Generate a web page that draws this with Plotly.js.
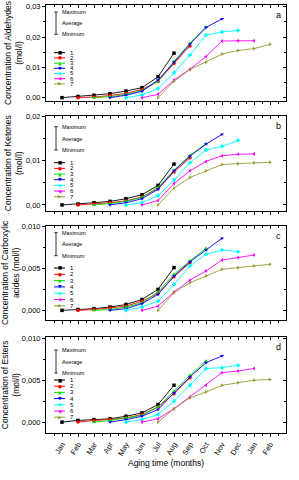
<!DOCTYPE html>
<html><head><meta charset="utf-8">
<script src="https://cdn.plot.ly/plotly-3.0.1.min.js"></script>
<style>html,body{margin:0;padding:0;background:#fff}#chart{width:299px;height:480px}</style>
</head><body><div id="chart"></div>
<script>
const monthLabels = ['Jan','Feb','Mar','Apr','May','Jun','Jul','Aug','Sep','Oct','Nov','Dec','Jan','Feb'];
const seriesNames = ['1','2','3','4','5','6','7'];
const seriesStart = [0,1,2,3,4,5,6];
const seriesColors = ['#000000','#ff0000','#00dd00','#0000ff','#00ffff','#ff00ff','#999933'];
const seriesSymbols = ['square','circle','triangle-up','triangle-down','diamond','triangle-left','triangle-right'];
const seriesGlyphs = ['\u25A0','\u25CF','\u25B2','\u25BC','\u25C6','\u25C0','\u25B6'];

const aldehydes = [
  [0,0.0004,0.0008,0.0013,0.0022,0.0033,0.0069,0.0147],
  [0,0.0002,0.0007,0.0014,0.0027,0.0054,0.0113,0.0171],
  [0,0.0003,0.0011,0.0023,0.0054,0.0120,0.0180,0.0233],
  [0,0.0008,0.0021,0.0058,0.0117,0.0177,0.0232,0.0260],
  [0,0.0009,0.0030,0.0082,0.0141,0.0207,0.0217,0.0222],
  [0,0.0011,0.0058,0.0094,0.0136,0.0187,0.0188,0.0188],
  [0,0.0054,0.0093,0.0118,0.0144,0.0156,0.0162,0.0176]
];
const ketones = [
  [0,0.0002,0.0005,0.0008,0.0014,0.0023,0.0044,0.0092],
  [0,0.0002,0.0005,0.0009,0.0018,0.0037,0.0074,0.0106],
  [0,0.0003,0.0008,0.0017,0.0040,0.0078,0.0112,0.0138],
  [0,0.0005,0.0014,0.0035,0.0077,0.0110,0.0137,0.0159],
  [0,0.0005,0.0021,0.0056,0.0095,0.0124,0.0132,0.0145],
  [0,0.0010,0.0048,0.0077,0.0098,0.0111,0.0114,0.0115],
  [0,0.0038,0.0062,0.0077,0.0091,0.0093,0.0095,0.0096]
];
const carboxylic = [
  [0,0.0001,0.0002,0.0004,0.0007,0.0013,0.0025,0.0051],
  [0,0.0001,0.0003,0.0005,0.0011,0.0020,0.0040,0.0057],
  [0,0.0001,0.0004,0.0009,0.0022,0.0043,0.0059,0.0074],
  [0,0.0002,0.0008,0.0019,0.0041,0.0058,0.0072,0.0086],
  [0,0.0004,0.0011,0.0031,0.0053,0.0067,0.0072,0.0070],
  [0,0.0005,0.0022,0.0036,0.0047,0.0060,0.0063,0.0066],
  [0,0.0021,0.0033,0.0041,0.0049,0.0051,0.0053,0.0055]
];
const esters = [
  [0,0.0002,0.0003,0.0004,0.0007,0.0011,0.0021,0.0044],
  [0,0.0002,0.0003,0.0005,0.0009,0.0018,0.0034,0.0053],
  [0,0.0002,0.0005,0.0008,0.0018,0.0037,0.0056,0.0073],
  [0,0.0003,0.0007,0.0015,0.0035,0.0054,0.0071,0.0079],
  [0,0.0003,0.0009,0.0025,0.0044,0.0064,0.0065,0.0068],
  [0,0.0004,0.0016,0.0030,0.0044,0.0059,0.0061,0.0064],
  [0,0.0016,0.0029,0.0036,0.0044,0.0047,0.0050,0.0051]
];
const yTitles = ['Concentration of Aldehydes<br>(mol/l)','Concentration of Ketones<br>(mol/l)','Concentration of Carboxylic<br>acides (mol/l)','Concentration of Esters<br>(mol/l)'];
const panelLetters = ['a','b','c','d'];
const xTitle = 'Aging time (months)';

const FONT = 'Liberation Sans, Arial, sans-serif';
const L = 46, R = 286, T = 5, B = 433;
const px = v => (v - L) / (R - L);
const py = v => (B - v) / (B - T);

const panels = [
  {data: aldehydes, range: [-0.0011, 0.0306], dtick: 0.01, fmt: '.2f', top: 5, bottom: 101, mm: [7,18.3,29.3], leg: [47.7,5.2]},
  {data: ketones, range: [-0.0013, 0.0201], dtick: 0.01, fmt: '.2f', top: 115.7, bottom: 210.7, mm: [11,23.3,34.3], leg: [47,5.67]},
  {data: carboxylic, range: [-0.00115, 0.0101], dtick: 0.005, fmt: '.3f', top: 225.7, bottom: 320, mm: [7,18.6,30], leg: [42.3,6.3]},
  {data: esters, range: [-0.0013, 0.0102], dtick: 0.005, fmt: '.3f', top: 336.7, bottom: 433, mm: [13.3,25,36.3], leg: [43.3,6.2]}
];

const traces = [];
const layout = {
  width: 299, height: 480,
  margin: {l: L, r: 299 - R, t: T, b: 480 - B},
  paper_bgcolor: '#fff', plot_bgcolor: '#fff',
  font: {family: FONT, color: '#000', size: 7.5},
  separators: ',.',
  showlegend: false,
  annotations: [], shapes: []
};
const xTickVals = monthLabels.map((_, i) => i);

panels.forEach((p, pi) => {
  const n = pi + 1;
  const xa = n === 1 ? 'x' : 'x' + n;
  const ya = n === 1 ? 'y' : 'y' + n;
  p.data.forEach((vals, si) => {
    traces.push({
      type: 'scatter', mode: 'lines+markers',
      x: vals.map((_, k) => seriesStart[si] + k), y: vals,
      xaxis: xa, yaxis: ya, name: seriesNames[si],
      line: {color: seriesColors[si], width: 0.9},
      marker: {color: seriesColors[si], symbol: seriesSymbols[si], size: 3.5},
      cliponaxis: false
    });
  });
  const domain = [py(p.bottom), py(p.top)];
  const isLast = pi === 3;
  layout['xaxis' + (n === 1 ? '' : n)] = {
    domain: [0, 1], anchor: ya, range: [-1, 14],
    tickmode: 'array', tickvals: xTickVals, ticktext: monthLabels,
    showticklabels: isLast, tickangle: -60, tickfont: {size: 7.5},
    ticks: 'outside', ticklen: 3, tickwidth: 1, tickcolor: '#000',
    minor: {tickmode: 'linear', tick0: 0.5, dtick: 1, ticks: 'outside', ticklen: 2, tickcolor: '#000'},
    showline: true, linecolor: '#000', linewidth: 1, mirror: true,
    showgrid: false, zeroline: false,
    title: isLast ? {text: xTitle, font: {size: 8.5}, standoff: 3} : {text: ''}
  };
  layout['yaxis' + (n === 1 ? '' : n)] = {
    domain: domain, anchor: xa, range: p.range,
    tickmode: 'linear', tick0: 0, dtick: p.dtick, tickformat: p.fmt,
    ticks: 'outside', ticklen: 3, tickwidth: 1, tickcolor: '#000', tickfont: {size: 7.5},
    minor: {tick0: 0, dtick: p.dtick / 2, ticks: 'outside', ticklen: 2, tickcolor: '#000'},
    showline: true, linecolor: '#000', linewidth: 1, mirror: true,
    showgrid: false, zeroline: false,
    title: {text: yTitles[pi], font: {size: 8.5}, standoff: 1}
  };
  const m = n + 4;
  layout['xaxis' + m] = {
    overlaying: xa, anchor: ya, side: 'top', range: [-1, 14],
    tickmode: 'array', tickvals: xTickVals, showticklabels: false,
    ticks: 'inside', ticklen: 3, tickcolor: '#000',
    minor: {tickmode: 'linear', tick0: 0.5, dtick: 1, ticks: 'inside', ticklen: 2, tickcolor: '#000'},
    showgrid: false, zeroline: false, showline: false
  };
  layout['yaxis' + m] = {
    overlaying: ya, anchor: xa, side: 'right', range: p.range,
    tickmode: 'linear', tick0: 0, dtick: p.dtick, showticklabels: false,
    ticks: 'inside', ticklen: 3, tickcolor: '#000',
    minor: {tick0: 0, dtick: p.dtick / 2, ticks: 'inside', ticklen: 2, tickcolor: '#000'},
    showgrid: false, zeroline: false, showline: false
  };
  traces.push({type: 'scatter', x: [], y: [], xaxis: 'x' + m, yaxis: 'y' + m, hoverinfo: 'skip', showlegend: false});

  layout.annotations.push({xref: 'paper', yref: 'paper', x: px(278), y: py(p.top + 10),
    text: panelLetters[pi], showarrow: false, font: {size: 9}, xanchor: 'center', yanchor: 'middle'});

  const yMax = p.top + p.mm[0], yAvg = p.top + p.mm[1], yMin = p.top + p.mm[2];
  layout.shapes.push({type: 'line', xref: 'paper', yref: 'paper', x0: px(56), x1: px(56), y0: py(yMax), y1: py(yMin), line: {color: '#000', width: 0.8}});
  layout.shapes.push({type: 'line', xref: 'paper', yref: 'paper', x0: px(54.3), x1: px(57.7), y0: py(yMax), y1: py(yMax), line: {color: '#000', width: 0.8}});
  layout.shapes.push({type: 'line', xref: 'paper', yref: 'paper', x0: px(54.3), x1: px(57.7), y0: py(yMin), y1: py(yMin), line: {color: '#000', width: 0.8}});
  [['Maximum', yMax], ['Average', yAvg], ['Minimum', yMin]].forEach(([t, yy]) => {
    layout.annotations.push({xref: 'paper', yref: 'paper', x: px(59.5), y: py(yy), text: t,
      showarrow: false, font: {size: 5.5}, xanchor: 'left', yanchor: 'middle'});
  });
  seriesNames.forEach((nm, si) => {
    const yy = p.top + p.leg[0] + si * p.leg[1];
    layout.shapes.push({type: 'line', xref: 'paper', yref: 'paper', x0: px(54), x1: px(65), y0: py(yy), y1: py(yy), line: {color: seriesColors[si], width: 1}});
    layout.annotations.push({xref: 'paper', yref: 'paper', x: px(59.5), y: py(yy), text: seriesGlyphs[si],
      showarrow: false, font: {size: 4.5, color: seriesColors[si], family: 'DejaVu Sans'}, xanchor: 'center', yanchor: 'middle'});
    layout.annotations.push({xref: 'paper', yref: 'paper', x: px(67.5), y: py(yy), text: nm,
      showarrow: false, font: {size: 6}, xanchor: 'left', yanchor: 'middle'});
  });
});

Plotly.newPlot('chart', traces, layout, {displayModeBar: false, staticPlot: true});
</script>
</body></html>
